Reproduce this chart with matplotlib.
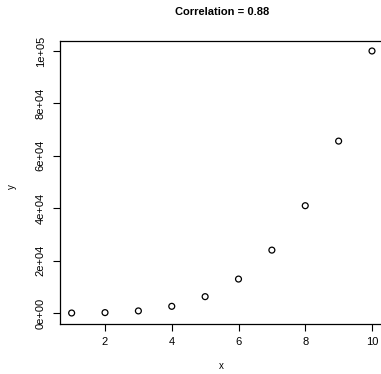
import matplotlib
matplotlib.use("Agg")
import matplotlib.pyplot as plt

x = [1, 2, 3, 4, 5, 6, 7, 8, 9, 10]
y = [10, 160, 810, 2560, 6250, 12960, 24010, 40960, 65610, 100000]
xticks = [2, 4, 6, 8, 10]
yticks = [0, 20000, 40000, 60000, 80000, 100000]
ylabels = ["0e+00", "2e+04", "4e+04", "6e+04", "8e+04", "1e+05"]
title = "Correlation = 0.88"

plt.rcParams['font.family'] = ['Liberation Sans', 'DejaVu Sans']
fig = plt.figure(figsize=(3.81, 3.74), dpi=100)
ax = fig.add_axes([0.1565, 0.135, 0.8514, 0.7567])
ax.scatter(x, y, s=18, facecolors='none', edgecolors='black', linewidths=0.9)
ax.set_xlim(0.64, 10.36)
ax.set_ylim(-4000, 104000)
ax.set_xticks(xticks)
ax.set_xticklabels([str(t) for t in xticks])
ax.set_yticks(yticks)
ax.set_yticklabels(ylabels, rotation=90, va='center')
ax.tick_params(labelsize=8, length=5, width=0.8, pad=5)
for s in ax.spines.values():
    s.set_linewidth(0.9)
fig.text(0.582, 0.968, title, ha='center', va='center', fontsize=8, fontweight='bold')
fig.text(0.582, 0.022, "x", ha='center', va='center', fontsize=7)
fig.text(0.032, 0.5, "y", ha='center', va='center', fontsize=7, rotation=90)
fig.savefig("out.png", dpi=100)
